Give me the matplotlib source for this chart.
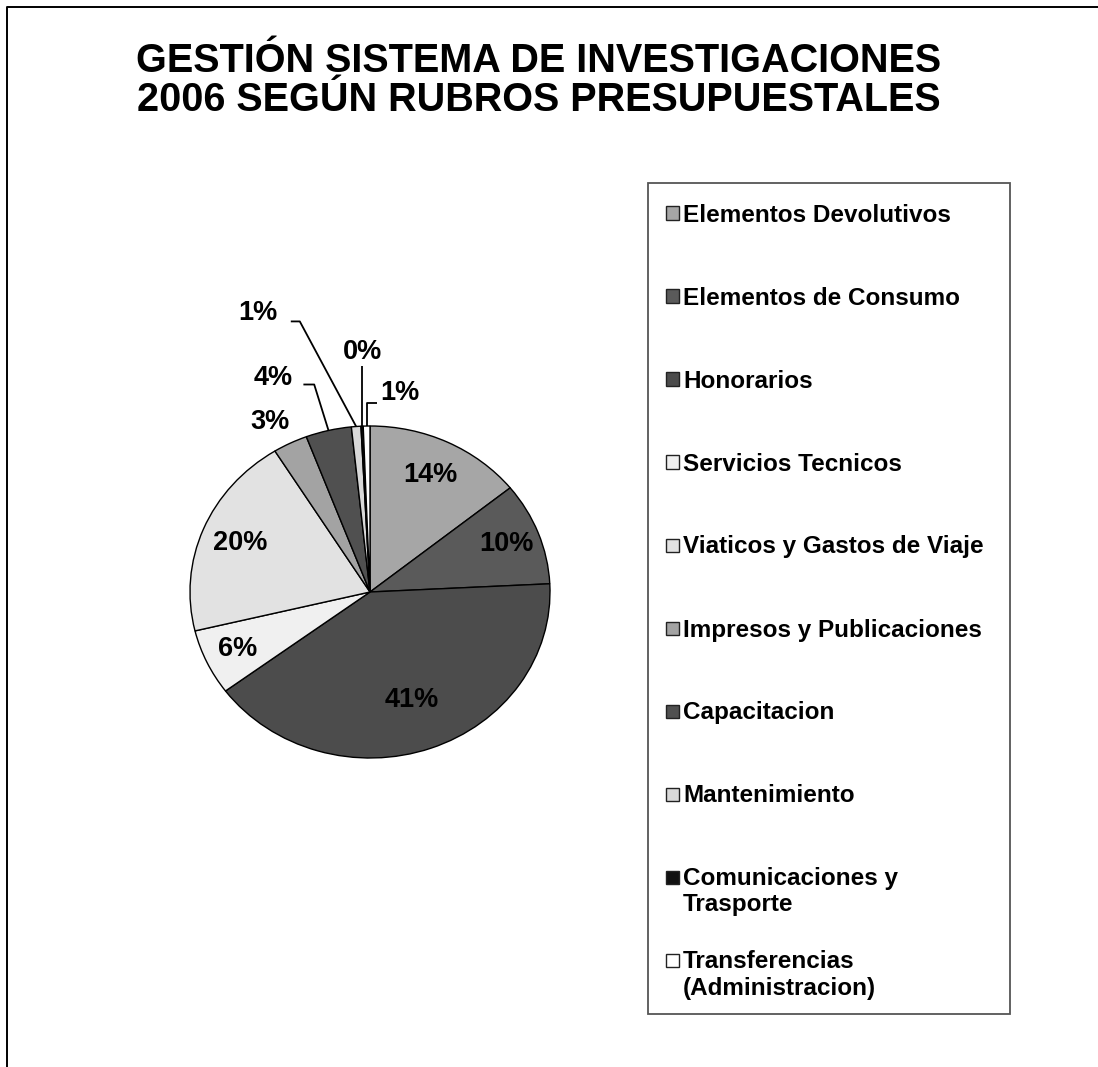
import numpy as np
import matplotlib.pyplot as plt
from matplotlib.lines import Line2D
from matplotlib.patches import Rectangle

# Datos (porcentajes de cada rubro)
rubros = ["Elementos Devolutivos", "Elementos de Consumo", "Honorarios",
          "Servicios Tecnicos", "Viaticos y Gastos de Viaje",
          "Impresos y Publicaciones", "Capacitacion", "Mantenimiento",
          "Comunicaciones y\nTrasporte", "Transferencias\n(Administracion)"]
valores = [14.2, 10.0, 40.6, 6.4, 19.9, 3.1, 4.1, 0.85, 0.2, 0.6]
colores = ["#a6a6a6", "#5a5a5a", "#4c4c4c", "#f0f0f0", "#e2e2e2",
           "#a3a3a3", "#505050", "#d9d9d9", "#111111", "#ffffff"]

titulo = ["GESTIÓN SISTEMA DE INVESTIGACIONES",
          "2006 SEGÚN RUBROS PRESUPUESTALES"]

W, H = 1098, 1067
FONT = "Liberation Sans"

fig = plt.figure(figsize=(W / 100, H / 100), dpi=100)


def fx(px):
    return px / W


def fy(py):
    return 1 - py / H


# marco de la hoja (solo izquierda y arriba)
fig.add_artist(Line2D([fx(6.5), fx(6.5), 1.0], [0.0, fy(6.5), fy(6.5)],
                      transform=fig.transFigure, color="black", lw=1.4))

# titulo
fig.text(fx(539), fy(72), titulo[0], ha="center", va="baseline",
         fontsize=28.5, weight="bold", family=FONT)
fig.text(fx(539), fy(111), titulo[1], ha="center", va="baseline",
         fontsize=28.5, weight="bold", family=FONT)

# torta (ligeramente achatada como en la imagen)
cx, cy, rx, ry = 370, 592, 180, 166
ax = fig.add_axes([fx(cx - 1.5 * rx), fy(cy + 1.5 * ry), 3 * rx / W, 3 * ry / H])
wedges, texts, autotexts = ax.pie(
    valores, colors=colores, startangle=90, counterclock=False,
    autopct="%1.0f%%", pctdistance=0.78,
    wedgeprops=dict(edgecolor="black", linewidth=1.0),
    textprops=dict(fontsize=19.5, weight="bold", family=FONT, color="black"))
ax.set_aspect("auto")
ax.set_xlim(-1.5, 1.5)
ax.set_ylim(-1.5, 1.5)
ax.axis("off")

# distancia radial de las etiquetas grandes
dist = [0.78, 0.81, 0.69, 0.81, 0.78]
# etiquetas pequenas fuera de la torta: (posicion texto, codo de la linea)
fuera = {
    5: ((-0.556, 1.024), None),
    6: ((-0.539, 1.289), [(-0.37, 1.25), (-0.31, 1.25)]),
    7: ((-0.622, 1.681), [(-0.44, 1.63), (-0.39, 1.63)]),
    8: ((-0.039, 1.446), [(None, 1.36)]),
    9: ((0.167, 1.199), [(0.04, 1.14), (None, 1.14)]),
}

for i, (w, t) in enumerate(zip(wedges, autotexts)):
    mid = np.deg2rad((w.theta1 + w.theta2) / 2)
    ex, ey = np.cos(mid), np.sin(mid)
    if i < len(dist):
        t.set_position((dist[i] * ex, dist[i] * ey))
        continue
    pos, codo = fuera[i]
    t.set_position(pos)
    t.set_ha("center")
    t.set_va("center")
    if codo:
        xs = [c[0] if c[0] is not None else ex for c in codo] + [ex]
        ys = [c[1] for c in codo] + [ey]
        ax.plot(xs, ys, color="black", lw=1.3, clip_on=False,
                solid_capstyle="butt")

# leyenda estilo Excel, dibujada a mano
fig.add_artist(Rectangle((fx(648), fy(1014)), (1010 - 648) / W, (1014 - 183) / H,
                         transform=fig.transFigure, facecolor="none",
                         edgecolor="#555555", lw=1.3))
for i, (nombre, col) in enumerate(zip(rubros, colores)):
    yc = 213 + 83 * i
    fig.add_artist(Rectangle((fx(666), fy(yc + 6.5)), 13 / W, 13 / H,
                             transform=fig.transFigure, facecolor=col,
                             edgecolor="#222222", lw=1.0))
    for j, linea in enumerate(nombre.split("\n")):
        fig.text(fx(683), fy(yc + 8.5 + 26 * j), linea, ha="left",
                 va="baseline", fontsize=17.5, weight="bold", family=FONT)

fig.savefig("out.png", dpi=100)
